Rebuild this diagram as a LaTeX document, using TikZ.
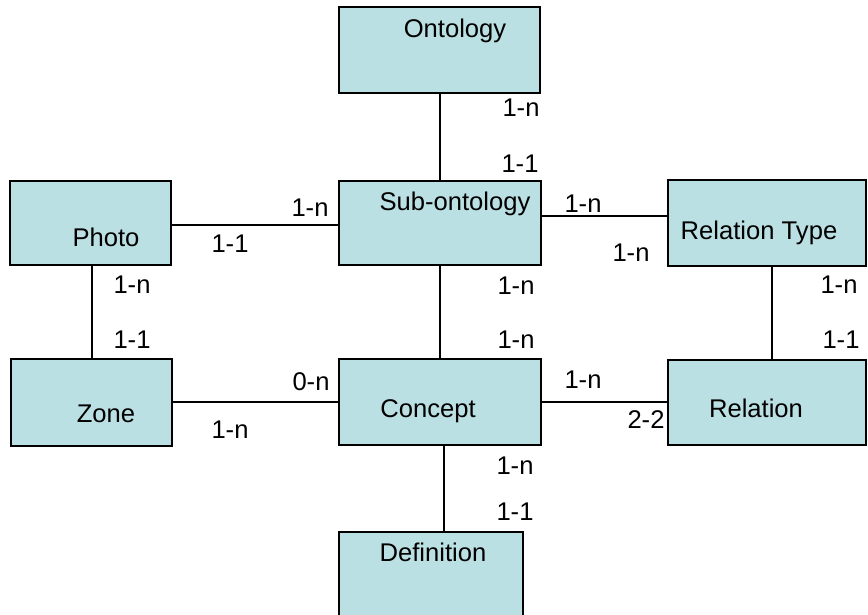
\documentclass[tikz,border=0pt]{standalone}
\usepackage{fontspec}
\setmainfont{Liberation Sans}
\definecolor{boxfill}{RGB}{187,224,227}
\begin{document}
\begin{tikzpicture}[x=0.5pt,y=-0.5pt,
  entity/.style={draw=black,fill=boxfill,line width=1pt,rectangle,inner sep=0pt},
  conn/.style={draw=black,line width=0.9pt},
  txt/.style={anchor=base,inner sep=0pt,font=\fontsize{12.8pt}{14pt}\selectfont}]
\useasboundingbox (0,0) rectangle (868,615);
\begin{scope}
\clip (0,0) rectangle (868,615);
% entities (boxes)
\node[entity,minimum width=100.5pt,minimum height=43pt] (ont) at (439.5,50) {};
\node[entity,minimum width=101pt,minimum height=42pt] (sub) at (440,223) {};
\node[entity,minimum width=80.5pt,minimum height=42pt] (photo) at (90.5,223) {};
\node[entity,minimum width=99pt,minimum height=43pt] (rtype) at (767,223) {};
\node[entity,minimum width=80.5pt,minimum height=43.5pt] (zone) at (91.5,402.5) {};
\node[entity,minimum width=101pt,minimum height=43pt] (concept) at (440,402) {};
\node[entity,minimum width=99pt,minimum height=42.5pt] (rel) at (767,402.5) {};
\node[entity,minimum width=92pt,minimum height=46pt] (def) at (431,578) {};
\end{scope}
% entity names
\node[txt] (tont) at (455,38) {Ontology};
\node[txt] (tsub) at (455,211) {Sub-ontology};
\node[txt] (tphoto) at (106,246) {Photo};
\node[txt] (trtype) at (759,240) {Relation Type};
\node[txt] (tzone) at (106,422) {Zone};
\node[txt] (tconcept) at (428,417) {Concept};
\node[txt] (trel) at (756,417) {Relation};
\node[txt] (tdef) at (433,561) {Definition};
% connectors
\draw[conn] (ont.south -| 440,0) -- (sub.north -| 440,0);
\draw[conn] (photo.east |- 0,225) -- (sub.west |- 0,225);
\draw[conn] (sub.east |- 0,216) -- (rtype.west |- 0,216);
\draw[conn] (photo.south -| 92,0) -- (zone.north -| 92,0);
\draw[conn] (sub.south -| 440,0) -- (concept.north -| 440,0);
\draw[conn] (zone.east |- 0,402) -- (concept.west |- 0,402);
\draw[conn] (concept.east |- 0,402) -- (rel.west |- 0,402);
\draw[conn] (rtype.south -| 772,0) -- (rel.north -| 772,0);
\draw[conn] (concept.south -| 444,0) -- (def.north -| 444,0);
% cardinalities
\node[txt] (c1) at (521,117) {1-n};
\node[txt] (c2) at (520,172) {1-1};
\node[txt] (c3) at (310,216) {1-n};
\node[txt] (c4) at (230,252) {1-1};
\node[txt] (c5) at (583,213) {1-n};
\node[txt] (c6) at (631,261) {1-n};
\node[txt] (c7) at (132,293) {1-n};
\node[txt] (c8) at (132,348) {1-1};
\node[txt] (c9) at (516,294) {1-n};
\node[txt] (c10) at (516,348) {1-n};
\node[txt] (c11) at (839,293) {1-n};
\node[txt] (c12) at (841,348) {1-1};
\node[txt] (c13) at (311,390) {0-n};
\node[txt] (c14) at (230,438) {1-n};
\node[txt] (c15) at (583,388) {1-n};
\node[txt] (c16) at (646,428) {2-2};
\node[txt] (c17) at (515,474) {1-n};
\node[txt] (c18) at (515,520) {1-1};
\end{tikzpicture}
\end{document}
